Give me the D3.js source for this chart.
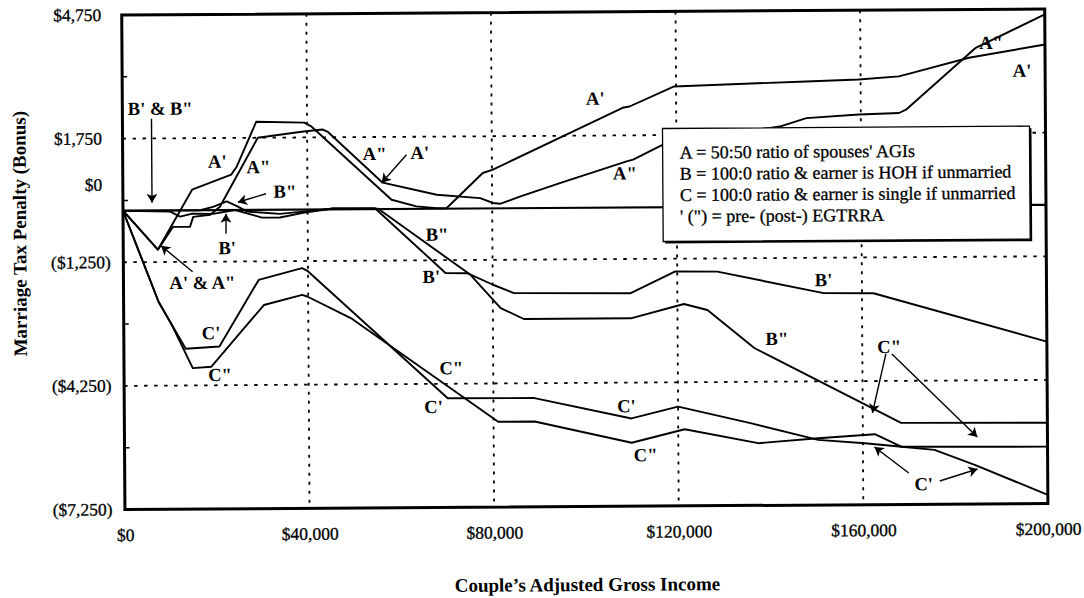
<!DOCTYPE html>
<html>
<head>
<meta charset="utf-8">
<script src="https://cdn.jsdelivr.net/npm/d3@7"></script>
<style>
  body { margin: 0; background: #fff; }
  svg { display: block; background: #fff; }
  text { font-family: "Liberation Serif", "Times New Roman", serif; fill: #000; }
  .scanText { stroke: #000; stroke-width: 0.3; }
</style>
</head>
<body>
<script>
// Marriage tax penalty (bonus) vs couple's AGI.
// Each series is [income, penalty] ; negative penalty = bonus.

// A' = 50:50, pre-EGTRRA
const aPre = [[0,0],[7500,-950],[15000,500],[23500,860],[24700,1050],[29000,2140],[39400,2110],[41000,2010],
  [58200,225],[63600,60],[68000,10],[70100,10],[78000,860],[80200,940],[108400,2420],[109900,2450],
  [119600,2930],[148200,3030],[159600,3070],[168300,3140],[171200,3220],[183500,3580],[200000,3890]];
// A" = 50:50, post-EGTRRA
const aPost = [[0,0],[7500,-950],[10800,-400],[14500,-400],[15200,-160],[18900,-110],[21000,80],[29300,1750],
  [38800,1890],[43300,1940],[44400,1890],[56300,640],[68000,340],[77400,250],[80200,130],[81700,110],
  [86000,280],[94700,600],[109200,1120],[110600,1160],[117100,1520],[142400,1940],[148200,2140],
  [159600,2220],[168300,2250],[169800,2330],[185000,3820],[200000,4620]];
// B' = 100:0, HOH, pre
const bPre = [[0,0],[10200,-30],[12400,-150],[15000,-80],[19500,-90],[24300,0],[28600,-140],[30100,-190],
  [34000,-190],[39000,-80],[45500,20],[54600,20],[69800,-1560],[74500,-1570],[80200,-1860],[84600,-2060],
  [109900,-2080],[119600,-1560],[128700,-1570],[151700,-2110],[162500,-2120],[200000,-3320]];
// B" = 100:0, HOH, post
const bPost = [[0,0],[16700,0],[19500,80],[22500,210],[24900,80],[26900,-40],[34000,-100],[39000,-50],
  [45500,20],[55300,10],[75200,-1610],[81700,-2420],[86700,-2690],[109900,-2690],[121400,-2350],
  [126500,-2500],[136600,-3430],[139500,-3600],[168300,-5270],[200000,-5290]];
// C' = 100:0, single, pre
const cPre = [[0,0],[7600,-2220],[10200,-2730],[13400,-3360],[20700,-3310],[29300,-1700],[38700,-1420],
  [39800,-1480],[70100,-4600],[88900,-4610],[109900,-5120],[120000,-4840],[135900,-5260],[150300,-5670],
  [160400,-5760],[168400,-5850],[200000,-5870]];
// C" = 100:0, single, post
const cPost = [[0,0],[7600,-2220],[10200,-2730],[14900,-3830],[18900,-3800],[23900,-3150],[30400,-2310],
  [38700,-2070],[39800,-2110],[49200,-2640],[81000,-5180],[88900,-5180],[109900,-5710],[121400,-5390],
  [137300,-5740],[150300,-5630],[162600,-5540],[168400,-5850],[175500,-5930],[184200,-6300],[200000,-7040]];

const xTickValues = [0, 40000, 80000, 120000, 160000, 200000];
const xGrid = [40000, 80000, 120000, 160000];
const yTickValues = [4750, 1750, 0, -1250, -4250, -7250];
const yTickLabels = ["$4,750", "$1,750", "$0", "($1,250)", "($4,250)", "($7,250)"];
const yGrid = [1750, -1250, -4250];
const yMinor = [3250, 250, -2750, -5750];

const legendLines = [
  "A = 50:50 ratio of spouses' AGIs",
  "B = 100:0 ratio & earner is HOH if unmarried",
  "C = 100:0 ratio & earner is single if unmarried",
  "' (\") = pre- (post-) EGTRRA"
];

// in-chart labels, anchored at [income, penalty]
const seriesLabels = [
  ["B' & B\"", 8200, 2470], ["A'", 20500, 1180], ["A\"", 29400, 1040], ["B\"", 35100, 440],
  ["B'", 22500, -920], ["A' & A\"", 17100, -1760], ["A\"", 54600, 1340], ["A'", 64400, 1360],
  ["A'", 102500, 2650], ["A\"", 108800, 830], ["A\"", 188300, 3940], ["A'", 195000, 3260],
  ["B\"", 68000, -630], ["B'", 66700, -1650], ["C\"", 70900, -3870], ["C'", 67000, -4810],
  ["C'", 108800, -4820], ["C\"", 112900, -6010], ["B'", 151700, -1790], ["B\"", 141500, -3210],
  ["C\"", 165800, -3420], ["C'", 173100, -6760], ["C'", 18900, -2980], ["C\"", 20800, -4000]
];
// pointer arrows [fromIncome, fromPenalty, toIncome, toPenalty]
const arrows = [
  [6300, 2230, 6300, 190], [31000, 390, 24900, 188], [22300, -575, 22300, -89],
  [15000, -1493, 8200, -856], [61500, 1315, 56100, 639], [165100, -3594, 162100, -5025],
  [166400, -3595, 184800, -5624], [169900, -6488, 162500, -5851], [176600, -6687, 184800, -6401]
];

// plot box (the scan is a little rotated, so the whole drawing gets a small tilt)
const plot = {left: 123, right: 1046, top: 15, bottom: 509.5};
const scanTilt = -0.37;

const x = d3.scaleLinear().domain([0, 200000]).range([plot.left, plot.right]);
const y = d3.scaleLinear().domain([-7250, 4750]).range([plot.bottom, plot.top]);

const svg = d3.select("body").append("svg")
  .attr("width", 1084)
  .attr("height", 598);

svg.append("defs").append("marker")
  .attr("id", "head")
  .attr("viewBox", "0 -5 10 10")
  .attr("refX", 10).attr("refY", 0)
  .attr("markerUnits", "userSpaceOnUse")
  .attr("markerWidth", 9).attr("markerHeight", 11)
  .attr("preserveAspectRatio", "none")
  .attr("orient", "auto")
  .append("path")
  .attr("d", "M0,-5L10,0L0,5L2.5,0Z")
  .attr("fill", "#000");

const root = svg.append("g")
  .attr("transform", `rotate(${scanTilt},${plot.left},${y(0)})`);

// dotted grid
root.append("g").selectAll("line").data(xGrid).join("line")
  .attr("x1", d => x(d)).attr("x2", d => x(d))
  .attr("y1", plot.top).attr("y2", plot.bottom)
  .attr("stroke", "#000").attr("stroke-width", 1.8)
  .attr("stroke-dasharray", "3,6");
root.append("g").selectAll("line").data(yGrid).join("line")
  .attr("x1", plot.left).attr("x2", plot.right)
  .attr("y1", d => y(d)).attr("y2", d => y(d))
  .attr("stroke", "#000").attr("stroke-width", 1.8)
  .attr("stroke-dasharray", "3.5,6.5");

// zero line
root.append("line")
  .attr("x1", plot.left).attr("x2", plot.right)
  .attr("y1", y(0)).attr("y2", y(0))
  .attr("stroke", "#000").attr("stroke-width", 2.2);

// series
const line = d3.line().x(d => x(d[0])).y(d => y(d[1]));
root.append("g").selectAll("path")
  .data([aPre, aPost, bPre, bPost, cPre, cPost])
  .join("path")
  .attr("d", line)
  .attr("fill", "none")
  .attr("stroke", "#000")
  .attr("stroke-width", 1.9)
  .attr("stroke-linejoin", "round");

// frame + small inward ticks on the left side
root.append("rect")
  .attr("x", plot.left).attr("y", plot.top)
  .attr("width", plot.right - plot.left).attr("height", plot.bottom - plot.top)
  .attr("fill", "none").attr("stroke", "#000").attr("stroke-width", 3);
root.append("g").selectAll("line").data(yMinor).join("line")
  .attr("x1", plot.left).attr("x2", plot.left + 5)
  .attr("y1", d => y(d)).attr("y2", d => y(d))
  .attr("stroke", "#000").attr("stroke-width", 1.5);

// legend box (white, hides what runs under it)
const lg = root.append("g");
lg.append("rect")
  .attr("x", 665).attr("y", 134).attr("width", 367).attr("height", 113)
  .attr("fill", "#000");
lg.append("rect")
  .attr("x", 663).attr("y", 132).attr("width", 367).attr("height", 113)
  .attr("fill", "#fff").attr("stroke", "#000").attr("stroke-width", 1.3);
lg.selectAll("text").data(legendLines).join("text")
  .attr("class", "scanText")
  .attr("x", 680)
  .attr("y", (d, i) => 162 + i * 21.3)
  .attr("font-size", 18)
  .text(d => d);

// x axis labels
const xAxis = root.append("g")
  .attr("transform", `translate(0,${plot.bottom})`)
  .call(d3.axisBottom(x).tickValues(xTickValues).tickFormat(d3.format("$,")).tickSize(0).tickPadding(19));
xAxis.select(".domain").remove();
xAxis.selectAll(".tick text")
  .attr("class", "scanText")
  .attr("font-family", "Liberation Serif, serif")
  .attr("font-size", 17.5)
  .attr("fill", "#000");

// y axis labels ($0 label sits above the zero line in the original)
const zeroLabelLift = 26;
root.append("g").selectAll("text").data(yTickValues).join("text")
  .attr("class", "scanText")
  .attr("x", (d, i) => yTickLabels[i].startsWith("(") ? 110.5 : 102.5)
  .attr("y", d => y(d) - (d === 0 ? zeroLabelLift : 0))
  .attr("dy", "0.33em")
  .attr("text-anchor", "end")
  .attr("font-size", 17.5)
  .text((d, i) => yTickLabels[i]);

// axis titles
root.append("text")
  .attr("x", 585).attr("y", 594)
  .attr("text-anchor", "middle")
  .attr("font-size", 19).attr("font-weight", "bold")
  .text("Couple\u2019s Adjusted Gross Income");
root.append("text")
  .attr("transform", "translate(26,233) rotate(-90)")
  .attr("text-anchor", "middle")
  .attr("font-size", 19).attr("font-weight", "bold")
  .text("Marriage Tax Penalty (Bonus)");

// series labels and pointers
root.append("g").selectAll("text").data(seriesLabels).join("text")
  .attr("x", d => x(d[1]))
  .attr("y", d => y(d[2]))
  .attr("dy", "0.33em")
  .attr("text-anchor", "middle")
  .attr("font-size", 18.5).attr("font-weight", "bold")
  .text(d => d[0]);
root.append("g").selectAll("line").data(arrows).join("line")
  .attr("x1", d => x(d[0])).attr("y1", d => y(d[1]))
  .attr("x2", d => x(d[2])).attr("y2", d => y(d[3]))
  .attr("stroke", "#000").attr("stroke-width", 1.4)
  .attr("marker-end", "url(#head)");
</script>
</body>
</html>
